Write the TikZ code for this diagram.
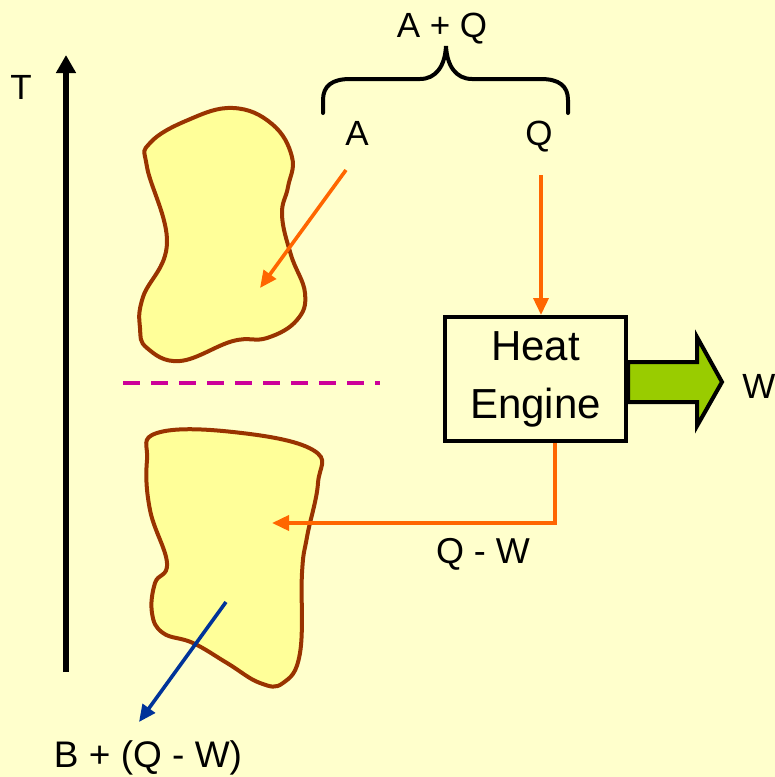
\documentclass[tikz,border=0pt]{standalone}
\usepackage{fontspec}
\setmainfont{Liberation Sans}
\usepackage{tikz}
\usetikzlibrary{arrows.meta}
\definecolor{FondoHoja}{RGB}{255,255,204}
\definecolor{RellenoCuerpo}{RGB}{255,255,153}
\definecolor{BordeCuerpo}{RGB}{153,51,0}
\definecolor{NaranjaCalor}{RGB}{255,102,0}
\definecolor{AzulCalor}{RGB}{0,51,153}
\definecolor{VerdeTrabajo}{RGB}{153,204,0}
\definecolor{MagentaLinea}{RGB}{204,0,153}

\begin{document}
\begin{tikzpicture}[x=0.5pt,y=-0.5pt,>=Latex,
  cuerpo/.style={draw=BordeCuerpo,fill=RellenoCuerpo,line width=2pt},
  calor/.style={-{Triangle[length=8.5pt,width=7.5pt]},line width=1.8pt,NaranjaCalor},
  rotulo/.style={font=\fontsize{17.5}{21}\selectfont,anchor=base,inner sep=0pt}]
  % fondo
  \fill[FondoHoja] (0,0) rectangle (775,777);
  \useasboundingbox (0,0) rectangle (775,777);

  % eje de temperatura
  \coordinate (Tpie) at (66,672);
  \coordinate (Tcima) at (66,55);
  \draw[-{Triangle[length=9pt,width=9.5pt]},line width=3pt] (Tpie) -- (Tcima);
  \node[rotulo] (T) at (21,99) {T};

  % cuerpo caliente
  \draw[cuerpo] plot[smooth cycle,tension=0.7] coordinates {
    (233,108) (272,124) (292,157) (288,187) (282,215) (291,255) (305,293)
    (297,320) (267,338) (233,341) (180,361) (147,348) (140,328) (143,297)
    (167,243) (147,167) (150,143) (188,120)};
  \coordinate (calA) at (260,288);

  % cuerpo frio
  \draw[cuerpo] plot[smooth cycle,tension=0.7] coordinates {
    (157,433) (233,432) (313,450) (318,483) (307,537) (302,573) (300,653)
    (283,683) (260,683) (227,663) (193,643) (163,633) (152,613) (155,583)
    (167,563) (150,510) (147,460)};
  \coordinate (calB) at (272,523);
  \coordinate (salB) at (226,602);

  % separacion
  \draw[MagentaLinea,line width=2pt,dash pattern=on 8.4pt off 5.6pt]
    (123,383) -- (380,383);

  % llave A + Q
  \draw[line width=2pt,line cap=round]
    (323,113) -- (323,100) .. controls (323,86) and (332,79) .. (350,79)
    -- (420,79) .. controls (436,79) and (445,66) .. (446,46)
    .. controls (447,66) and (456,79) .. (472,79)
    -- (541,79) .. controls (559,79) and (568,86) .. (568,100) -- (568,113);
  \node[rotulo] (AQ) at (442,37) {A + Q};
  \node[rotulo] (A) at (357,145) {A};
  \node[rotulo] (Q) at (539,145) {Q};

  % maquina termica
  \node[draw,line width=2pt,minimum width=90.5pt,minimum height=62pt,
    align=center,font=\fontsize{21}{29}\selectfont] (maq) at (535.5,379)
    {Heat\\Engine};
  \fill[VerdeTrabajo,draw=black,line width=2pt,line join=miter]
    (maq.east |- 0,362) -- (697,362) -- (697,337) -- (722,382)
    -- (697,426) -- (697,402) -- (maq.east |- 0,402) -- cycle;
  \node[rotulo,anchor=base west] (W) at (742,398) {W};

  % flujos de calor
  \coordinate (desdeA) at (346,170);
  \coordinate (desdeQ) at (541,175);
  \coordinate (codo) at (555,523);
  \draw[calor] (desdeA) -- (calA);
  \draw[calor] (desdeQ) -- (desdeQ |- maq.north);
  \draw[calor] (maq.south -| codo) -- (codo) -- (calB);
  \node[rotulo,font=\fontsize{18}{21}\selectfont] (QW) at (483,563) {Q - W};

  \coordinate (finB) at (139,722);
  \draw[-{Triangle[length=8.5pt,width=7.5pt]},line width=1.8pt,AzulCalor]
    (salB) -- (finB);
  \node[rotulo,font=\fontsize{18.5}{21}\selectfont] (BQW) at (148,767)
    {B + (Q - W)};
\end{tikzpicture}
\end{document}
